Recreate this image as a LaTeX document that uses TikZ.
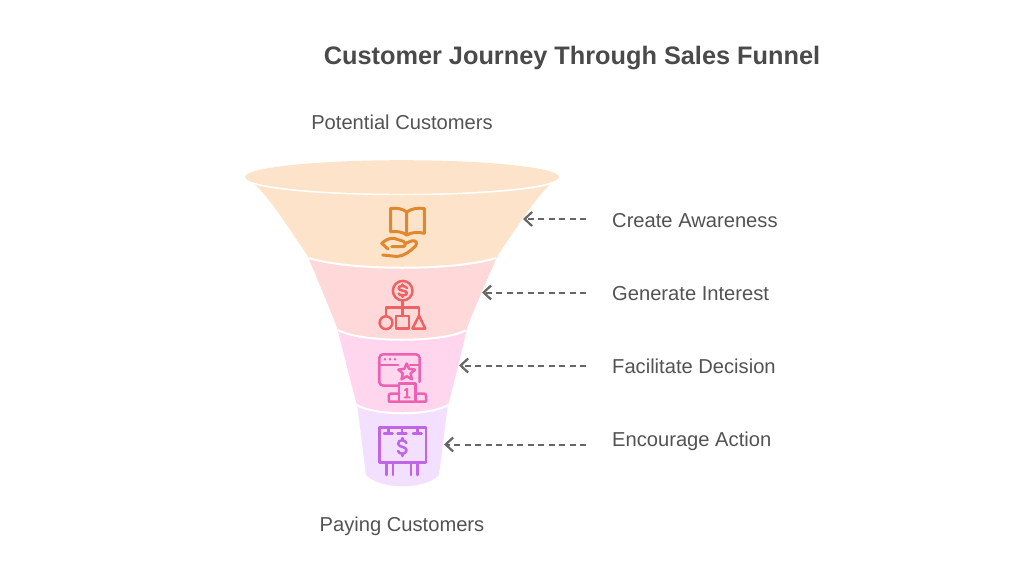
\documentclass[tikz,border=0pt]{standalone}
\usepackage{fontspec}
\setmainfont{Liberation Sans}
\usetikzlibrary{arrows.meta}
\definecolor{fA}{HTML}{FEE3CB}\definecolor{fB}{HTML}{FFD9D9}\definecolor{fC}{HTML}{FFD6EE}\definecolor{fD}{HTML}{F3DFFF}
\definecolor{iA}{HTML}{E0882E}\definecolor{iB}{HTML}{EE6262}\definecolor{iC}{HTML}{EC62B0}\definecolor{iD}{HTML}{C065E8}
\definecolor{txt}{HTML}{4A4A4A}\definecolor{conn}{HTML}{666666}
\tikzset{
 titlelabel/.style={font=\fontsize{25.3}{30}\selectfont\bfseries,text=txt,inner sep=0pt,text height=18pt,text depth=5pt},
 funnellabel/.style={font=\fontsize{20.15}{24}\selectfont,text=txt!95!white,inner sep=0pt,text height=15pt,text depth=4pt},
 sidelabel/.style={funnellabel,anchor=west},
 connector/.style={draw=conn,line width=2pt,dash pattern=on 6pt off 4.5pt,-{Straight Barb[length=7.5pt,width=14pt,line width=2.2pt]}},
 icon/.style={line width=2.5pt,line cap=round,line join=round},
 sep/.style={draw=white,line width=2pt},
}
\newcommand{\dollarmark}[4]{% centre x, y, half width, half height
 \draw[icon] ({#1+#3},{#2-0.55*#4}) .. controls ({#1+0.8*#3},{#2-1.05*#4}) and ({#1-1.1*#3},{#2-1.1*#4}) .. ({#1-#3},{#2-0.45*#4})
   .. controls ({#1-0.9*#3},{#2+0.1*#4}) and ({#1+1.05*#3},{#2-0.1*#4}) .. ({#1+#3},{#2+0.45*#4})
   .. controls ({#1+#3},{#2+1.1*#4}) and ({#1-0.9*#3},{#2+1.05*#4}) .. ({#1-#3},{#2+0.55*#4});
 \draw[icon] (#1,{#2-1.25*#4}) -- (#1,{#2-0.95*#4}) (#1,{#2+0.95*#4}) -- (#1,{#2+1.25*#4});
}
\begin{document}
\begin{tikzpicture}[x=1pt,y=-1pt]
\useasboundingbox[fill=white] (0,0) rectangle (1024,586);
% funnel, bottom to top
\fill[fD] (356,395) -- (449,395) -- (439,475) .. controls (425,490) and (380,490) .. (366,475) -- cycle;
\fill[fC] (335,320) -- (469,320) .. controls (462,350) and (455,380) .. (448,405) .. controls (430,416) and (375,416) .. (357,405) .. controls (350,380) and (343,350) .. (335,320) -- cycle;
\draw[sep] (357,405) .. controls (375,416) and (430,416) .. (448,405);
\fill[fB] (305,250) -- (500,250) .. controls (487,280) and (476,305) .. (466,330) .. controls (445,343) and (360,343) .. (338,330) .. controls (328,305) and (318,280) .. (305,250) -- cycle;
\draw[sep] (338,330) .. controls (360,343) and (445,343) .. (466,330);
\fill[fA] (253,183) .. controls (268,195) and (290,230) .. (309,258) .. controls (350,271) and (455,271) .. (496,258) .. controls (515,230) and (537,195) .. (552,183) -- cycle;
\draw[sep] (309,258) .. controls (350,271) and (455,271) .. (496,258);
\draw[sep] (253,183) .. controls (300,198) and (505,198) .. (552,183);
\fill[fA] (402,177) ellipse [x radius=157, y radius=16.8];
% icon 1: book on hand
\begin{scope}[draw=iA]
\draw[icon,line width=3pt] (390.5,231.7) -- (390.5,208.5) .. controls (397,207.5) and (403,209) .. (406.7,212) .. controls (411,209) and (417,207.5) .. (424.3,208.5) -- (424.3,233.3) .. controls (418,232) and (412,232) .. (406.7,235) -- (406.7,212);
\draw[icon,line width=3pt] (390.5,231.7) .. controls (397,231) and (403,232) .. (406.7,235);
\draw[icon,line width=3pt] (388,249) -- (381.7,243.3) .. controls (386,239.5) and (390,238) .. (394,238.3) -- (403,241.2) .. controls (406,242.5) and (406,246.7) .. (402.5,246.7) -- (391.7,246.7)
 (405,243.5) -- (412,240.8) .. controls (415.5,239.8) and (418,243) .. (415.5,246) .. controls (410,251.5) and (404,256) .. (397,256.5) -- (382.7,255);
\end{scope}
% icon 2: dollar and shapes
\begin{scope}[draw=iB]
\draw[icon] (402.7,290.7) circle [radius=9.8];
\dollarmark{402.7}{290.7}{4.2}{5}
\draw[icon] (402.7,300.5) -- (402.7,316) (386,315.5) -- (386,307.3) -- (419,307.3) -- (419,315.5);
\draw[icon] (386,322.7) circle [radius=6.4];
\draw[icon] (396.2,316) rectangle (409,328.6);
\draw[icon] (419,315.7) -- (425.3,328.5) -- (412.4,328.5) -- cycle;
\end{scope}
% icon 3: window, star and podium
\begin{scope}[draw=iC]
\draw[icon] (398,385.5) -- (383,385.5) .. controls (381,385.5) and (379.3,384) .. (379.3,382) -- (379.3,358) .. controls (379.3,356) and (381,354.3) .. (383,354.3) -- (416,354.3) .. controls (418,354.3) and (419.6,356) .. (419.6,358) -- (419.6,382);
\draw[icon] (379.3,365) -- (398,365) (410,365) -- (419.6,365);
\foreach \dx in {385,390,395} \fill[iC] (\dx,359.3) circle [radius=1.4];
\draw[icon] (406.7,363.5) -- (409.1,368.9) -- (415,369.6) -- (410.6,373.5) -- (411.9,379.3) -- (406.7,376.3) -- (401.5,379.3) -- (402.8,373.5) -- (398.4,369.6) -- (404.3,368.9) -- cycle;
\draw[icon] (399,401.7) -- (399,383.5) -- (415.7,383.5) -- (415.7,401.7);
\draw[icon] (399,393.5) -- (391,393.5) .. controls (389.5,393.5) and (388.8,394.5) .. (388.8,396) -- (388.8,401.7) -- (426,401.7) -- (426,396) .. controls (426,394.5) and (425.3,393.5) .. (424,393.5) -- (415.7,393.5);
\draw[icon,line width=2pt] (405,390) -- (407,388.8) -- (407,397.4) (404.6,397.4) -- (409.6,397.4);
\end{scope}
% icon 4: billboard
\begin{scope}[draw=iD]
\draw[icon] (379.3,427.3) rectangle (426,462.7);
\draw[icon] (388.3,427.3) -- (388.3,433.6) (384,433.6) -- (392.6,433.6)
 (402,427.3) -- (402,433.6) (397.6,433.6) -- (406.4,433.6)
 (417.3,427.3) -- (417.3,433.6) (413,433.6) -- (421.6,433.6);
\draw[icon] (386.7,462.7) -- (386.7,475) (392.9,462.7) -- (392.9,475) (411,462.7) -- (411,475) (417.5,462.7) -- (417.5,475);
\dollarmark{402.3}{447}{4.2}{7.2}
\end{scope}
% labels
\node[titlelabel] (title) at (572,57.5) {Customer Journey Through Sales Funnel};
\node[funnellabel] (top) at (402,124) {Potential Customers};
\node[funnellabel] (bottom) at (402,525.5) {Paying Customers};
\node[sidelabel] (la) at (612,221.5) {Create Awareness};
\node[sidelabel] (lb) at (612,294.5) {Generate Interest};
\node[sidelabel] (lc) at (612,367.5) {Facilitate Decision};
\node[sidelabel] (ld) at (612,440.5) {Encourage Action};
% connectors
\coordinate (sa) at (586,219); \coordinate (ta) at (523,219);
\coordinate (sb) at (586,292.5); \coordinate (tb) at (482,292.5);
\coordinate (sc) at (586,365.5); \coordinate (tc) at (459,365.5);
\coordinate (sd) at (586,444.5); \coordinate (td) at (444,444.5);
\draw[connector] (sa) -- (ta);
\draw[connector] (sb) -- (tb);
\draw[connector] (sc) -- (tc);
\draw[connector] (sd) -- (td);
\end{tikzpicture}
\end{document}
